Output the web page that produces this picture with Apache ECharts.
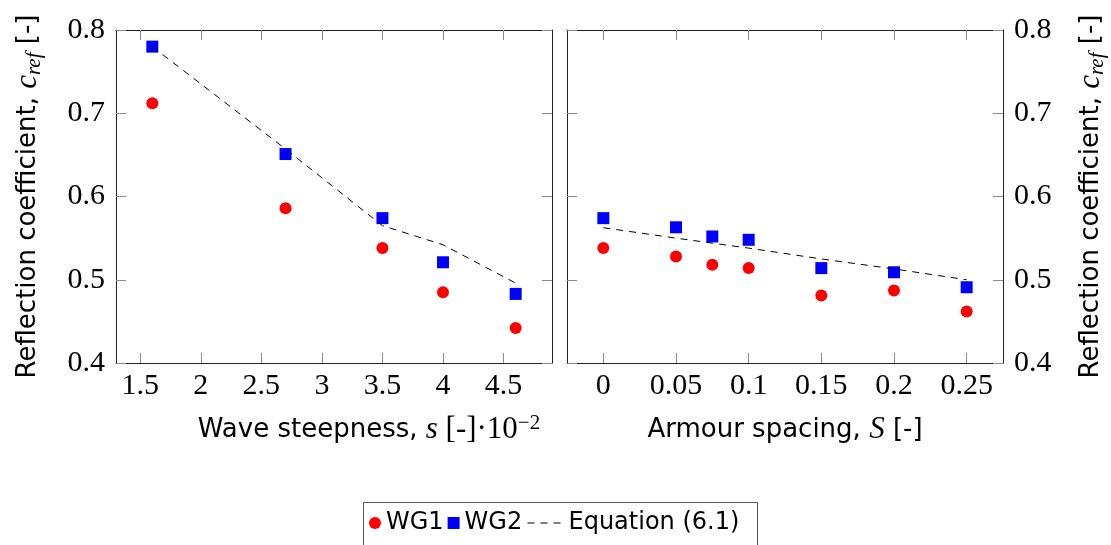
<!DOCTYPE html>
<html>
<head>
<meta charset="utf-8">
<title>Reflection coefficient</title>
<script src="https://cdn.jsdelivr.net/npm/echarts@6/dist/echarts.min.js"></script>
<style>
  html, body { margin: 0; padding: 0; background: #fff; }
  #chart { width: 1111px; height: 545px; }
</style>
</head>
<body>
<div id="chart"></div>
<script>
// left panel: wave steepness s [-]*10^-2
var steepness = [1.6, 2.7, 3.5, 4.0, 4.6];
var wg1Steep = [0.712, 0.586, 0.538, 0.485, 0.442];
var wg2Steep = [0.780, 0.651, 0.574, 0.521, 0.483];
var eqSteep = [0.780, 0.657, 0.565, 0.542, 0.496];

// right panel: armour spacing S [-]
var spacing = [0, 0.05, 0.075, 0.1, 0.15, 0.2, 0.25];
var wg1Space = [0.538, 0.528, 0.518, 0.514, 0.481, 0.487, 0.462];
var wg2Space = [0.574, 0.563, 0.552, 0.548, 0.514, 0.509, 0.491];
var eqSpace = [0.5625, 0.550, 0.544, 0.538, 0.525, 0.513, 0.500];

// tick labels
var steepTicks = [1.5, 2, 2.5, 3, 3.5, 4, 4.5];
var spaceTicks = [0, 0.05, 0.1, 0.15, 0.2, 0.25];
var yTicks = [0.4, 0.5, 0.6, 0.7, 0.8];

var SERIF = 'Liberation Serif';
var SANS = 'DejaVu Sans';

function pairs(xs, ys) {
    var out = [];
    for (var i = 0; i < xs.length; i++) {
        out.push([xs[i], ys[i]]);
    }
    return out;
}

var nameRich = {
    t: { fontFamily: SANS, fontSize: 26, color: '#000', lineHeight: 34 },
    m: { fontFamily: SERIF, fontStyle: 'italic', fontSize: 31, color: '#000', lineHeight: 34 },
    r: { fontFamily: SERIF, fontSize: 31, color: '#000', lineHeight: 34 },
    sub: { fontFamily: SERIF, fontStyle: 'italic', fontSize: 21, color: '#000', lineHeight: 20, verticalAlign: 'bottom' },
    sup: { fontFamily: SERIF, fontSize: 21, color: '#000', lineHeight: 20, verticalAlign: 'top' }
};

// one axis of the box; labels only on the side that has them
function makeX(grid, pos, min, max, ticks, showLabel, name, pad) {
    return {
        type: 'value',
        gridIndex: grid,
        position: pos,
        min: min,
        max: max,
        splitLine: { show: false },
        axisLine: { show: true, onZero: false, lineStyle: { color: '#222', width: 1 } },
        axisTick: { show: true, inside: true, length: 10, customValues: ticks, lineStyle: { color: '#8a8a8a', width: 1 } },
        axisLabel: {
            show: showLabel,
            customValues: ticks,
            margin: 8,
            fontFamily: SERIF,
            fontSize: 30,
            color: '#000',
            formatter: function (v) { return String(v); }
        },
        name: name || '',
        nameLocation: 'middle',
        nameGap: 50,
        nameTextStyle: { rich: nameRich, padding: pad || 0 }
    };
}

function makeY(grid, pos, showLabel, name) {
    return {
        type: 'value',
        gridIndex: grid,
        position: pos,
        min: 0.4,
        max: 0.8,
        splitLine: { show: false },
        axisLine: { show: true, onZero: false, lineStyle: { color: '#222', width: 1 } },
        axisTick: { show: true, inside: true, length: 10, customValues: yTicks, lineStyle: { color: '#8a8a8a', width: 1 } },
        axisLabel: {
            show: showLabel,
            customValues: yTicks,
            margin: 11,
            fontFamily: SERIF,
            fontSize: 30,
            color: '#000',
            formatter: function (v) { return String(v); }
        },
        name: name || '',
        nameLocation: 'middle',
        nameRotate: 90,
        nameGap: 71,
        nameTextStyle: { rich: nameRich }
    };
}

var yName = '{t|Reflection coefficient, }{m|c}{sub|ref}{t| [-]}';

var option = {
    backgroundColor: '#fff',
    animation: false,
    grid: [
        { left: 116, top: 30, width: 436, height: 333 },
        { left: 567, top: 30, width: 436, height: 333 }
    ],
    xAxis: [
        makeX(0, 'bottom', 1.3, 4.9, steepTicks, true,
            '{t|Wave steepness, }{m|s}{r| [-]·10}{sup|−2}', [0, 0, 0, 70]),
        makeX(0, 'top', 1.3, 4.9, steepTicks, false),
        makeX(1, 'bottom', -0.025, 0.275, spaceTicks, true,
            '{t|Armour spacing, }{m|S}{t| [-]}'),
        makeX(1, 'top', -0.025, 0.275, spaceTicks, false)
    ],
    yAxis: [
        makeY(0, 'left', true, yName),
        makeY(0, 'right', false),
        makeY(1, 'left', false),
        makeY(1, 'right', true, yName)
    ],
    legend: [{
        left: 369,
        top: 511,
        padding: 0,
        itemWidth: 12,
        itemHeight: 12,
        itemGap: 4,
        data: ['WG1', 'WG2'],
        textStyle: { fontFamily: SANS, fontSize: 24, color: '#000' }
    }, {
        left: 527,
        top: 511,
        padding: 0,
        itemWidth: 36,
        itemHeight: 12,
        data: ['Equation (6.1)'],
        itemStyle: { opacity: 0 },
        lineStyle: { color: '#000', width: 1, type: [7, 6] },
        textStyle: { fontFamily: SANS, fontSize: 24, color: '#000' }
    }],
    graphic: [{
        type: 'rect',
        shape: { x: 363.5, y: 502.5, width: 394, height: 60 },
        style: { fill: 'none', stroke: '#555', lineWidth: 1 },
        silent: true
    }],
    series: [
        {
            name: 'WG1', type: 'scatter', xAxisIndex: 0, yAxisIndex: 0,
            symbol: 'circle', symbolSize: 12,
            itemStyle: { color: '#ff0000', opacity: 1 },
            data: pairs(steepness, wg1Steep)
        },
        {
            name: 'WG2', type: 'scatter', xAxisIndex: 0, yAxisIndex: 0,
            symbol: 'rect', symbolSize: 12,
            itemStyle: { color: '#0000ff', opacity: 1 },
            data: pairs(steepness, wg2Steep)
        },
        {
            name: 'Equation (6.1)', type: 'line', xAxisIndex: 0, yAxisIndex: 0,
            symbol: 'none',
            lineStyle: { color: '#000', width: 1, type: [7, 6] },
            itemStyle: { color: '#000' },
            data: pairs(steepness, eqSteep)
        },
        {
            name: 'WG1', type: 'scatter', xAxisIndex: 2, yAxisIndex: 3,
            symbol: 'circle', symbolSize: 12,
            itemStyle: { color: '#ff0000', opacity: 1 },
            data: pairs(spacing, wg1Space)
        },
        {
            name: 'WG2', type: 'scatter', xAxisIndex: 2, yAxisIndex: 3,
            symbol: 'rect', symbolSize: 12,
            itemStyle: { color: '#0000ff', opacity: 1 },
            data: pairs(spacing, wg2Space)
        },
        {
            name: 'Equation (6.1)', type: 'line', xAxisIndex: 2, yAxisIndex: 3,
            symbol: 'none',
            lineStyle: { color: '#000', width: 1, type: [7, 6] },
            itemStyle: { color: '#000' },
            data: pairs(spacing, eqSpace)
        }
    ]
};

var my_chart = echarts.init(document.getElementById('chart'), null, { renderer: 'canvas' });
my_chart.setOption(option);
</script>
</body>
</html>
